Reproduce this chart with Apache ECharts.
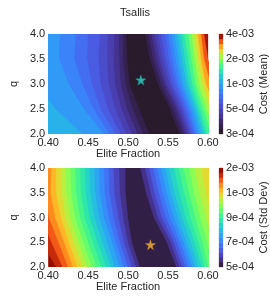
<!DOCTYPE html>
<html><head><meta charset="utf-8">
<script src="https://cdn.jsdelivr.net/npm/echarts@6/dist/echarts.min.js"></script>
<style>html,body{margin:0;padding:0;background:#fff}#c{width:270px;height:297px}</style>
</head><body><div id="c"></div>
<script>
// q values at which contour crossings were read
const qSamples = [2.0, 2.5, 3.0, 3.5, 4.0];
const xTicks = [0.40, 0.45, 0.50, 0.55, 0.60];
const qTicks = [2.0, 2.5, 3.0, 3.5, 4.0];
const meanTickLabels = ['3e-04', '5e-04', '1e-03', '2e-03', '4e-03'];
const stdTickLabels = ['5e-04', '7e-04', '9e-04', '1e-03', '2e-03'];
const meanRange = [2.6e-4, 3.6e-3];
const stdRange = [5.1e-4, 1.6e-3];
const nLevels = 20;

// Mean cost: Elite Fraction where each contour level k (1..19) is crossed, left of the valley
const meanLeft = [
  [0.527, 0.514, 0.502, 0.499, 0.498],
  [0.519, 0.506, 0.497, 0.494, 0.494],
  [0.512, 0.499, 0.491, 0.489, 0.489],
  [0.505, 0.492, 0.484, 0.482, 0.483],
  [0.498, 0.484, 0.476, 0.474, 0.475],
  [0.491, 0.475, 0.466, 0.463, 0.465],
  [0.484, 0.466, 0.455, 0.449, 0.450],
  [0.477, 0.457, 0.443, 0.433, 0.435],
  [0.470, 0.445, 0.426, 0.414, 0.415],
  [0.443, 0.410, 0.385, 0.370, 0.370]
];
// ... and right of the valley
const meanRight = [
  [0.564, 0.552, 0.537, 0.527, 0.521],
  [0.568, 0.556, 0.541, 0.531, 0.525],
  [0.571, 0.560, 0.545, 0.535, 0.529],
  [0.574, 0.563, 0.548, 0.539, 0.533],
  [0.577, 0.566, 0.552, 0.543, 0.537],
  [0.579, 0.569, 0.555, 0.547, 0.541],
  [0.582, 0.572, 0.559, 0.551, 0.546],
  [0.584, 0.575, 0.562, 0.555, 0.550],
  [0.587, 0.578, 0.566, 0.559, 0.554],
  [0.590, 0.581, 0.569, 0.563, 0.558],
  [0.593, 0.584, 0.573, 0.567, 0.562],
  [0.596, 0.587, 0.576, 0.571, 0.566],
  [0.599, 0.590, 0.580, 0.575, 0.570],
  [0.604, 0.594, 0.584, 0.579, 0.575],
  [0.610, 0.598, 0.588, 0.583, 0.579],
  [0.620, 0.603, 0.593, 0.587, 0.583],
  [0.630, 0.610, 0.597, 0.591, 0.587],
  [0.640, 0.620, 0.603, 0.595, 0.591],
  [0.650, 0.630, 0.610, 0.600, 0.595]
];
// Std-dev cost contours
const stdLeft = [
  [0.515, 0.505, 0.500, 0.497, 0.497],
  [0.510, 0.500, 0.494, 0.490, 0.489],
  [0.505, 0.495, 0.488, 0.483, 0.482],
  [0.500, 0.490, 0.482, 0.477, 0.476],
  [0.495, 0.485, 0.476, 0.471, 0.470],
  [0.490, 0.480, 0.470, 0.465, 0.464],
  [0.484, 0.474, 0.464, 0.459, 0.458],
  [0.479, 0.468, 0.458, 0.453, 0.452],
  [0.473, 0.462, 0.452, 0.447, 0.446],
  [0.467, 0.456, 0.446, 0.441, 0.440],
  [0.461, 0.450, 0.440, 0.435, 0.434],
  [0.455, 0.444, 0.434, 0.429, 0.428],
  [0.449, 0.438, 0.428, 0.423, 0.422],
  [0.443, 0.432, 0.422, 0.417, 0.416],
  [0.437, 0.426, 0.416, 0.410, 0.410],
  [0.431, 0.420, 0.409, 0.403, 0.404],
  [0.425, 0.413, 0.401, 0.396, 0.398],
  [0.418, 0.404, 0.392, 0.389, 0.392],
  [0.410, 0.392, 0.383, 0.380, 0.386]
];
const stdRight = [
  [0.560, 0.548, 0.532, 0.522, 0.515],
  [0.564, 0.553, 0.537, 0.528, 0.521],
  [0.568, 0.557, 0.542, 0.533, 0.526],
  [0.572, 0.561, 0.547, 0.538, 0.531],
  [0.576, 0.565, 0.552, 0.543, 0.536],
  [0.580, 0.569, 0.557, 0.548, 0.541],
  [0.584, 0.573, 0.562, 0.553, 0.546],
  [0.588, 0.578, 0.567, 0.558, 0.551],
  [0.592, 0.583, 0.572, 0.564, 0.557],
  [0.596, 0.588, 0.578, 0.570, 0.563],
  [0.600, 0.593, 0.584, 0.576, 0.569],
  [0.606, 0.599, 0.590, 0.582, 0.576],
  [0.613, 0.606, 0.597, 0.589, 0.583],
  [0.620, 0.614, 0.605, 0.597, 0.591],
  [0.630, 0.620, 0.614, 0.606, 0.600]
];
const meanBest = [0.516, 3.08];
const stdBest = [0.528, 2.45];

function turbo(t) {
  t = Math.max(0, Math.min(1, t));
  const r = 0.13572138 + t * (4.61539260 + t * (-42.66032258 + t * (132.13108234 + t * (-152.94239396 + t * 59.28637943))));
  const g = 0.09140261 + t * (2.19418839 + t * (4.84296658 + t * (-14.18503333 + t * (4.27729857 + t * 2.82956604))));
  const b = 0.10667330 + t * (12.64194608 + t * (-60.58204836 + t * (110.36276771 + t * (-89.90310912 + t * 27.34824973))));
  const c = v => Math.round(255 * Math.max(0, Math.min(1, v)));
  return 'rgb(' + c(r) + ',' + c(g) + ',' + c(b) + ')';
}
function bandColors(range) {
  const lo = range[0], hi = range[1], out = [];
  for (let i = 0; i < nLevels; i++) {
    const a = lo * Math.pow(hi / lo, i / nLevels), b = lo * Math.pow(hi / lo, (i + 1) / nLevels);
    out.push(turbo(((a + b) / 2 - lo) / (hi - lo)));
  }
  return out;
}
const meanColors = bandColors(meanRange);
const stdColors = bandColors(stdRange);

function contourSeries(left, right, colors, xi) {
  const data = [];
  for (let k = nLevels; k >= 1; k--) data.push([0.5, 3, k]);
  return {
    type: 'custom', xAxisIndex: xi, yAxisIndex: xi, clip: true, silent: true,
    encode: { x: 0, y: 1 },
    data: data,
    renderItem: function (params, api) {
      const k = api.value(2);
      let pts;
      if (k === nLevels) {
        pts = [[0.4, 2], [0.6, 2], [0.6, 4], [0.4, 4]];
      } else {
        pts = [];
        const L = left[k - 1] || [], R = right[k - 1] || [];
        for (let j = 0; j < qSamples.length; j++) pts.push([L[j] != null ? L[j] : 0.3, qSamples[j]]);
        for (let j = qSamples.length - 1; j >= 0; j--) pts.push([R[j] != null ? R[j] : 0.7, qSamples[j]]);
      }
      return { type: 'polygon', shape: { points: pts.map(p => api.coord(p)) },
        style: { fill: colors[k - 1], stroke: colors[k - 1], lineWidth: 0.3 } };
    }
  };
}
function colorbarSeries(colors, idx) {
  const data = [];
  for (let i = 0; i < nLevels; i++) data.push([0.5, i]);
  return {
    type: 'custom', xAxisIndex: idx, yAxisIndex: idx, silent: true,
    encode: { x: 0, y: 1 }, data: data,
    renderItem: function (params, api) {
      const i = api.value(1);
      const p0 = api.coord([0, i]), p1 = api.coord([1, i + 1]);
      return { type: 'rect', shape: { x: p0[0], y: p1[1], width: p1[0] - p0[0], height: p0[1] - p1[1] },
        style: { fill: colors[i], stroke: colors[i], lineWidth: 0.3 } };
    }
  };
}
const font = 'Liberation Sans';
const txt = '#262626';
function mainX(gi) {
  return { type: 'value', gridIndex: gi, min: 0.4, max: 0.6, interval: 0.05,
    name: 'Elite Fraction', nameLocation: 'middle', nameGap: 14,
    nameTextStyle: { fontFamily: font, fontSize: 11, color: txt },
    axisLine: { show: false }, axisTick: { show: false }, splitLine: { show: false },
    axisLabel: { fontFamily: font, fontSize: 11, color: txt, margin: 3, formatter: v => v.toFixed(2) } };
}
function mainY(gi) {
  return { type: 'value', gridIndex: gi, min: 2, max: 4, interval: 0.5,
    name: 'q', nameLocation: 'middle', nameGap: 22,
    nameTextStyle: { fontFamily: font, fontSize: 11, color: txt },
    axisLine: { show: false }, axisTick: { show: false }, splitLine: { show: false },
    axisLabel: { fontFamily: font, fontSize: 11, color: txt, margin: 3, formatter: v => v.toFixed(1) } };
}
function cbY(gi, labels, name) {
  return { type: 'value', gridIndex: gi, min: 0, max: nLevels, interval: 5, position: 'right',
    name: name, nameLocation: 'middle', nameGap: 32,
    nameTextStyle: { fontFamily: font, fontSize: 11, color: txt },
    axisLine: { show: false }, axisTick: { show: false }, splitLine: { show: false },
    axisLabel: { fontFamily: font, fontSize: 11, color: txt, margin: 3, formatter: v => labels[Math.round(v / 5)] } };
}
const starPath = 'path://M50,0 L61,35 L98,35 L68,57 L79,91 L50,70 L21,91 L32,57 L2,35 L39,35 Z';
const chart = echarts.init(document.getElementById('c'), null, { renderer: 'canvas' });
chart.setOption({
  animation: false,
  backgroundColor: '#fff',
  title: { text: 'Tsallis', left: 'center', top: 2, textStyle: { fontFamily: font, fontSize: 11, fontWeight: 'normal', color: txt } },
  grid: [
    { left: 34, top: 34, width: 174, height: 100 },
    { left: 34, top: 168, width: 174, height: 99 },
    { left: 219, top: 34, width: 6, height: 100 },
    { left: 219, top: 168, width: 6, height: 99 }
  ],
  xAxis: [mainX(0), mainX(1),
    { type: 'value', gridIndex: 2, min: 0, max: 1, show: false },
    { type: 'value', gridIndex: 3, min: 0, max: 1, show: false }],
  yAxis: [mainY(0), mainY(1), cbY(2, meanTickLabels, 'Cost (Mean)'), cbY(3, stdTickLabels, 'Cost (Std Dev)')],
  series: [
    contourSeries(meanLeft, meanRight, meanColors, 0),
    contourSeries(stdLeft, stdRight, stdColors, 1),
    colorbarSeries(meanColors, 2),
    colorbarSeries(stdColors, 3),
    { type: 'scatter', xAxisIndex: 0, yAxisIndex: 0, data: [meanBest], symbol: starPath, symbolSize: 10,
      itemStyle: { color: '#2fd6c3', borderColor: '#1aa898', borderWidth: 0.5 }, z: 5 },
    { type: 'scatter', xAxisIndex: 1, yAxisIndex: 1, data: [stdBest], symbol: starPath, symbolSize: 10,
      itemStyle: { color: '#f6b53a', borderColor: '#d08a20', borderWidth: 0.5 }, z: 5 }
  ]
});
</script></body></html>
